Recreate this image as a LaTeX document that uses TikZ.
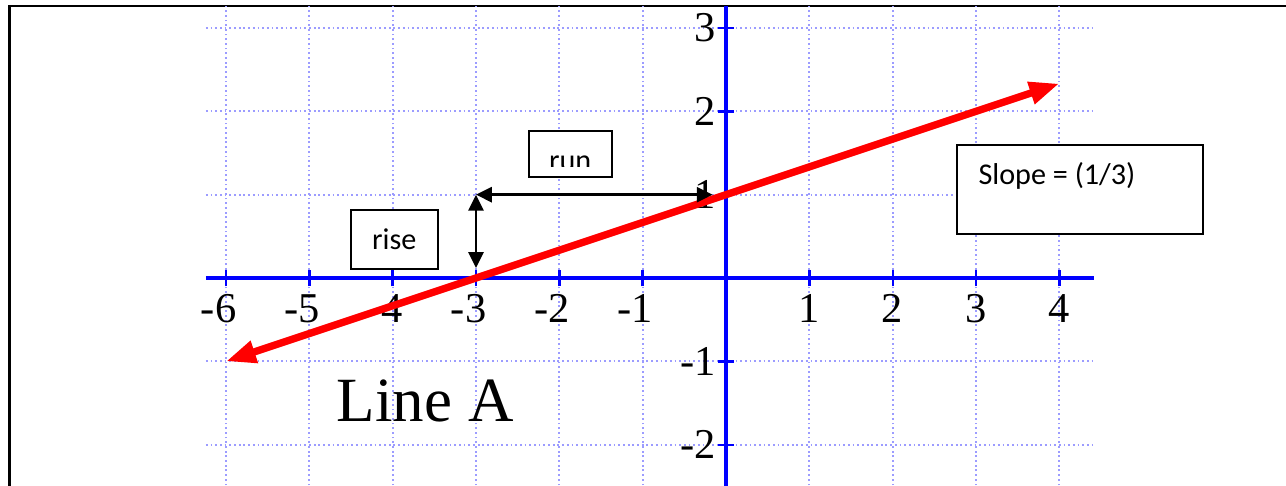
\documentclass[tikz,border=0pt]{standalone}
\usepackage{fontspec}
\setmainfont{Liberation Serif}
\newfontfamily\boxfont{Carlito}
\usepackage{tikz}
\usetikzlibrary{arrows.meta,calc}
\definecolor{axisblue}{HTML}{0000FF}
\definecolor{gridblue}{HTML}{9C9CFF}
\definecolor{linered}{HTML}{FF0000}

\begin{document}
\begin{tikzpicture}[
  boxtext/.style={inner sep=0pt,font=\boxfont\fontsize{10.3}{12}\selectfont},
  txtbox/.style={boxtext,draw,line width=0.7pt,fill=white},
  ticklbl/.style={inner sep=0pt,font=\fontsize{14.5}{17}\selectfont},
  dimarrow/.style={{Triangle[length=1.9mm,width=1.8mm]}-{Triangle[length=1.9mm,width=1.8mm]},line width=0.9pt}
]
  \useasboundingbox (-8.712,-2.484) rectangle (6.72,3.336);
  % Rahmen der Tabellenzelle
  \draw[line width=1pt] (-8.6,-2.6) -- (-8.6,3.264) -- (-6.24,3.264);
  \draw[line width=0.4pt] (-6.24,3.264) -- (4.416,3.264);
  \draw[line width=1pt] (4.416,3.264) -- (6.8,3.264);
  % Gitter
  \draw[gridblue,densely dotted,line width=0.6pt] (-6.24,-2.6) grid (4.416,3.264);
  % Achsen mit Teilstrichen
  \draw[axisblue,line width=1.3pt] (-6.24,0) -- (4.416,0);
  \draw[axisblue,line width=1.3pt] (0,-2.6) -- (0,3.264);
  \foreach \x in {-6,...,-1,1,2,3,4} {
    \draw[axisblue,line width=0.8pt] (\x,-0.1) -- (\x,0.1);
    \node[ticklbl,anchor=base east] (xl\x) at (\x+0.13,-0.53) {\x};
  }
  \foreach \y in {-2,-1,1,2,3} {
    \draw[axisblue,line width=0.8pt] (-0.1,\y) -- (0.1,\y);
    \node[ticklbl,anchor=east] (yl\y) at (-0.12,\y) {\y};
  }
  % Gerade y = x/3 + 1
  \coordinate (lineA) at (-6,-1);
  \coordinate (lineB) at (4,7/3);
  \draw[linered,line width=2.5pt,line cap=round,{Triangle[length=3.6mm,width=2.6mm]}-{Triangle[length=3.6mm,width=2.6mm]}] (lineA) -- (lineB);
  % Steigungsdreieck
  \coordinate (riseA) at (-3,0.12);
  \coordinate (corner) at (-3,1);
  \coordinate (runB) at (-0.16,1);
  \draw[dimarrow] (riseA) -- (corner);
  \draw[dimarrow] (corner) -- (runB);
  % Textfelder
  \node[txtbox,minimum width=1.04cm,minimum height=0.71cm] (rise) at (-3.98,0.46) {rise};
  \node[txtbox,minimum width=1.0cm,minimum height=0.55cm] (runbox) at (-1.866,1.488) {};
  \begin{scope}
    \clip (-2.3,1.336) rectangle (-1.4,1.7);
    \node[boxtext,anchor=base] (run) at (-1.87,1.29) {run};
  \end{scope}
  \node[txtbox,minimum width=2.95cm,minimum height=1.07cm] (slopebox) at (4.248,1.062) {};
  \node[boxtext,anchor=base west] (slope) at (3.024,1.128) {Slope = (1/3)};
  \node[inner sep=0pt,font=\fontsize{21.5}{25}\selectfont] (title) at (-3.61,-1.48) {Line A};
\end{tikzpicture}
\end{document}
